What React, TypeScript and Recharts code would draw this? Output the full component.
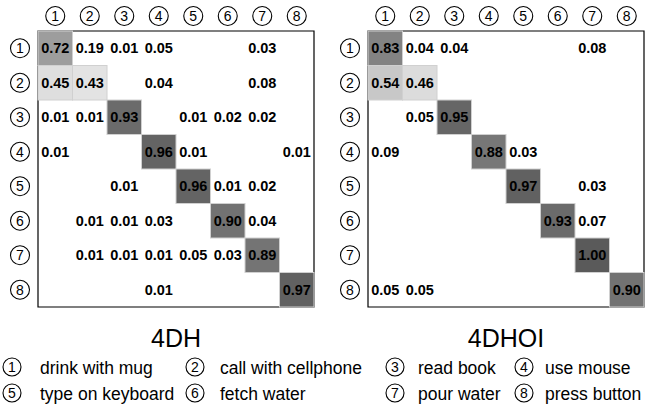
import { ReferenceArea, Scatter, ScatterChart, XAxis, YAxis } from "recharts";

const classIds = [1, 2, 3, 4, 5, 6, 7, 8];
const actionNames = [
  "drink with mug",
  "call with cellphone",
  "read book",
  "use mouse",
  "type on keyboard",
  "fetch water",
  "pour water",
  "press button",
];

// rows = ground truth, columns = predicted; null = empty cell
const matrix4DH: (number | null)[][] = [
  [0.72, 0.19, 0.01, 0.05, null, null, 0.03, null],
  [0.45, 0.43, null, 0.04, null, null, 0.08, null],
  [0.01, 0.01, 0.93, null, 0.01, 0.02, 0.02, null],
  [0.01, null, null, 0.96, 0.01, null, null, 0.01],
  [null, null, 0.01, null, 0.96, 0.01, 0.02, null],
  [null, 0.01, 0.01, 0.03, null, 0.9, 0.04, null],
  [null, 0.01, 0.01, 0.01, 0.05, 0.03, 0.89, null],
  [null, null, null, 0.01, null, null, null, 0.97],
];

const matrix4DHOI: (number | null)[][] = [
  [0.83, 0.04, 0.04, null, null, null, 0.08, null],
  [0.54, 0.46, null, null, null, null, null, null],
  [null, 0.05, 0.95, null, null, null, null, null],
  [0.09, null, null, 0.88, 0.03, null, null, null],
  [null, null, null, null, 0.97, null, 0.03, null],
  [null, null, null, null, null, 0.93, 0.07, null],
  [null, null, null, null, null, null, 1.0, null],
  [0.05, 0.05, null, null, null, null, null, 0.9],
];

const FONT = "'Liberation Sans', Arial, sans-serif";
const CELL = 276 / 8;
const ticks = classIds.map((i) => i - 0.5);

const toPoints = (m: (number | null)[][]) => {
  const out: { x: number; y: number; v: number }[] = [];
  m.forEach((row, r) =>
    row.forEach((v, c) => {
      if (v !== null) out.push({ x: c + 0.5, y: r + 0.5, v });
    })
  );
  return out;
};

const shade = (v: number) => {
  if (v < 0.3) return "none";
  const g = Math.max(0, Math.min(255, Math.round(330 - 240 * v)));
  return `rgb(${g},${g},${g})`;
};

const CellShape = (props: any) => {
  const { cx, cy, payload } = props;
  const fill = shade(payload.v);
  return (
    <g>
      {fill !== "none" && (
        <rect
          x={cx - CELL / 2}
          y={cy - CELL / 2}
          width={CELL}
          height={CELL}
          fill={fill}
          stroke="#d0d0d0"
          strokeWidth={1}
        />
      )}
      <text
        x={cx}
        y={cy + 5}
        textAnchor="middle"
        fontFamily={FONT}
        fontWeight="bold"
        fontSize={14.5}
        fill="#000"
      >
        {payload.v.toFixed(2)}
      </text>
    </g>
  );
};

const Circled = ({ cx, cy, n, r = 9.5 }: { cx: number; cy: number; n: number; r?: number }) => (
  <g>
    <circle cx={cx} cy={cy} r={r} fill="none" stroke="#000" strokeWidth={1.1} />
    <text x={cx} y={cy + 5} textAnchor="middle" fontFamily={FONT} fontSize={14} fill="#000">
      {n}
    </text>
  </g>
);

const TopTick = (props: any) => (
  <Circled cx={props.x} cy={16} n={props.payload.value + 0.5} />
);
const LeftTick = (props: any) => (
  <Circled cx={20} cy={props.y} n={props.payload.value + 0.5} />
);

function Matrix({ data }: { data: (number | null)[][] }) {
  return (
    <ScatterChart
      width={330}
      height={320}
      margin={{ top: 0, left: 0, right: 16, bottom: 13 }}
    >
      <XAxis
        type="number"
        dataKey="x"
        orientation="top"
        domain={[0, 8]}
        ticks={ticks}
        height={31}
        axisLine={false}
        tickLine={false}
        tick={<TopTick />}
        interval={0}
      />
      <YAxis
        type="number"
        dataKey="y"
        domain={[0, 8]}
        reversed
        ticks={ticks}
        width={38}
        axisLine={false}
        tickLine={false}
        tick={<LeftTick />}
        interval={0}
      />
      <ReferenceArea x1={0} x2={8} y1={0} y2={8} fill="none" stroke="#000" strokeWidth={1.2} />
      <Scatter data={toPoints(data)} shape={<CellShape />} isAnimationActive={false} />
    </ScatterChart>
  );
}

const legendCircleX = [12, 195, 395, 524];
const legendTextX = [40, 220, 418, 545];
const legendY = [367, 393];

export default function App() {
  return (
    <div
      style={{
        position: "absolute",
        left: 0,
        top: 0,
        width: 655,
        height: 406,
        overflow: "hidden",
        background: "#fff",
        fontFamily: FONT,
      }}
    >
      <div style={{ position: "absolute", left: 0, top: 0 }}>
        <Matrix data={matrix4DH} />
      </div>
      <div style={{ position: "absolute", left: 330, top: 0 }}>
        <Matrix data={matrix4DHOI} />
      </div>
      <svg width={655} height={406} style={{ position: "absolute", left: 0, top: 0, pointerEvents: "none" }}>
        <text x={176} y={347} textAnchor="middle" fontFamily={FONT} fontSize={25} fill="#000">
          4DH
        </text>
        <text x={506} y={347} textAnchor="middle" fontFamily={FONT} fontSize={25} fill="#000">
          4DHOI
        </text>
        {actionNames.map((name, i) => {
          const col = i % 4;
          const cy = legendY[Math.floor(i / 4)];
          return (
            <g key={name}>
              <Circled cx={legendCircleX[col]} cy={cy} n={classIds[i]} r={9} />
              <text x={legendTextX[col]} y={cy + 7} fontFamily={FONT} fontSize={17.5} fill="#000">
                {name}
              </text>
            </g>
          );
        })}
      </svg>
    </div>
  );
}
